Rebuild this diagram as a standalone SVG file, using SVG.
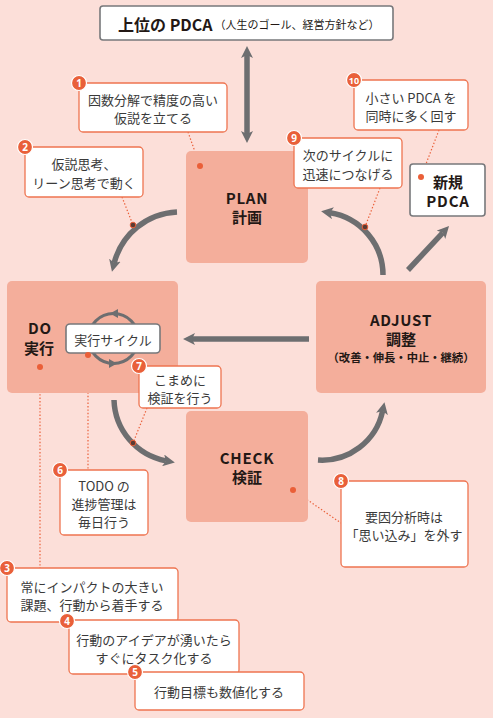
<svg xmlns="http://www.w3.org/2000/svg" width="493" height="718" viewBox="0 0 493 718">
<style>
text{font-family:"Noto Sans CJK JP","Noto Sans",sans-serif}
.bg{fill:#fcdfd9}
.phase{fill:#f4ae9b}
.call{fill:#fff;stroke:#ee7450;stroke-width:1.3}
.gbox{fill:#fff;stroke:#77787b;stroke-width:1.6}
.t{font-size:13px;fill:#3a3a3a;text-anchor:middle;dominant-baseline:central}
.b{font-size:15px;font-weight:bold;fill:#231815;text-anchor:middle;dominant-baseline:central}
.lat{letter-spacing:0.8px}
.badge circle{fill:#e9603a;stroke:#fff;stroke-width:1.2}
.badge text{font-size:10px;font-weight:bold;fill:#fff;text-anchor:middle;dominant-baseline:central;font-family:"Noto Sans",sans-serif}
.arr{fill:none;stroke:#6d6e70;stroke-width:5.5;marker-end:url(#ah)}
.dotl{fill:none;stroke:#ea5f38;stroke-width:1.2;stroke-dasharray:1.4 2}
.dot{fill:#ea5f38}
.adot{fill:#5b3b33;stroke:#ea5f38;stroke-width:1}
</style>
<defs>
<marker id="ah" viewBox="0 0 12 12" markerWidth="12" markerHeight="12" markerUnits="userSpaceOnUse" refX="3" refY="6" orient="auto-start-reverse">
<path d="M0,0 L12,6 L0,12 L3,6 z" fill="#6d6e70"/>
</marker>
</defs>
<rect class="bg" x="0" y="0" width="493" height="718"/>

<g id="connectors">
<path class="arr" d="M247,55 L247,134" marker-start="url(#ah)"/>
<path class="arr" d="M177,212 A68,68 0 0 0 114.2,263"/>
<path class="arr" d="M383,275 A63,63 0 0 0 330,212.8"/>
<path class="arr" d="M114,400 A64,64 0 0 0 166,460.9"/>
<path class="arr" d="M318,460 A62,62 0 0 0 382.6,411"/>
<path class="arr" d="M309,339 L192,339"/>
<path class="arr" d="M408,270 L442.9,232.6"/>
<path class="dotl" d="M188,132 L200,166"/>
<path class="dotl" d="M122,197 L133,225"/>
<path class="dotl" d="M380,188 L365,227"/>
<path class="dotl" d="M439,130 L421,177"/>
<path class="dotl" d="M147,408 L133,443"/>
<path class="dotl" d="M293,490 L341,523"/>
<path class="dotl" d="M40,367 L40,568"/>
<path class="dotl" d="M88,355 L88,470"/>
</g>

<g id="plan">
<rect class="phase" x="186" y="151" width="122" height="112" rx="5"/>
<text class="b"><tspan class="lat" x="247" y="197">PLAN</tspan><tspan x="247" y="216">計画</tspan></text>
<circle class="dot" cx="200" cy="166" r="3"/>
</g>
<g id="do">
<rect class="phase" x="7" y="281" width="171" height="112" rx="5"/>
<text class="b"><tspan class="lat" x="40" y="327">DO</tspan><tspan x="39" y="347">実行</tspan></text>
<circle class="dot" cx="40" cy="367" r="3"/>
</g>
<g id="check">
<rect class="phase" x="186" y="411" width="122" height="111" rx="5"/>
<text class="b"><tspan class="lat" x="247" y="457">CHECK</tspan><tspan x="247" y="476">検証</tspan></text>
<circle class="dot" cx="293" cy="490" r="3"/>
</g>
<g id="adjust">
<rect class="phase" x="316" y="281" width="170" height="112" rx="5"/>
<text class="b"><tspan class="lat" x="401" y="318.5">ADJUST</tspan><tspan x="401" y="337.5">調整</tspan><tspan x="401" y="357" style="font-size:11.3px">（改善・伸長・中止・継続）</tspan></text>
</g>

<g id="arrow-dots">
<circle class="adot" cx="133" cy="225" r="2.8"/>
<circle class="adot" cx="365" cy="227" r="2.8"/>
<circle class="adot" cx="133" cy="443" r="2.8"/>
</g>

<g id="top">
<rect class="gbox" x="100" y="6" width="293" height="34" rx="3"/>
<text x="118" y="24" style="font-size:16px;font-weight:bold;fill:#231815;dominant-baseline:central">上位の PDCA<tspan style="font-size:11px;font-weight:normal" dx="2">（人生のゴール、経営方針など）</tspan></text>
</g>

<g id="new-pdca">
<rect class="gbox" x="410" y="164" width="75" height="52" rx="3"/>
<text class="b"><tspan x="448" y="181">新規</tspan><tspan class="lat" x="448" y="200">PDCA</tspan></text>
<circle class="dot" cx="421" cy="177" r="3"/>
</g>

<g id="exec-cycle">
<circle cx="113.5" cy="338.5" r="25" fill="none" stroke="#6d6e70" stroke-width="3"/>
<path d="M110,313.5 L118,309 L118,318 z" fill="#6d6e70"/>
<path d="M117,363.5 L109,359 L109,368 z" fill="#6d6e70"/>
<rect class="gbox" x="66" y="324" width="94" height="29" rx="4"/>
<text class="t" x="113" y="339">実行サイクル</text>
<circle class="dot" cx="88" cy="355" r="3"/>
</g>

<g id="c1">
<rect class="call" x="79" y="83" width="148" height="49" rx="4"/>
<text class="t"><tspan x="153" y="99">因数分解で精度の高い</tspan><tspan x="153" y="117">仮説を立てる</tspan></text>
<g class="badge"><circle cx="79" cy="83" r="7.5"/><text x="79" y="83">1</text></g>
</g>
<g id="c2">
<rect class="call" x="25" y="147" width="118" height="50" rx="4"/>
<text class="t"><tspan x="84" y="163">仮説思考、</tspan><tspan x="84" y="182">リーン思考で動く</tspan></text>
<g class="badge"><circle cx="25" cy="147" r="7.5"/><text x="25" y="147">2</text></g>
</g>
<g id="c9">
<rect class="call" x="294" y="138" width="108" height="50" rx="4"/>
<text class="t"><tspan x="348" y="154">次のサイクルに</tspan><tspan x="348" y="173">迅速につなげる</tspan></text>
<g class="badge"><circle cx="294" cy="138" r="7.5"/><text x="294" y="138">9</text></g>
</g>
<g id="c10">
<rect class="call" x="354" y="80" width="114" height="50" rx="4"/>
<text class="t"><tspan x="411" y="97">小さい PDCA を</tspan><tspan x="411" y="115">同時に多く回す</tspan></text>
<g class="badge"><circle cx="354" cy="80" r="7.5"/><text x="354" y="80" style="font-size:9px">10</text></g>
</g>
<g id="c7">
<rect class="call" x="139" y="366" width="82" height="42" rx="4"/>
<text class="t"><tspan x="180" y="378.5">こまめに</tspan><tspan x="180" y="396.5">検証を行う</tspan></text>
<g class="badge"><circle cx="139" cy="366" r="7.5"/><text x="139" y="366">7</text></g>
</g>
<g id="c6">
<rect class="call" x="60" y="470" width="88" height="65" rx="4"/>
<text class="t"><tspan x="104" y="485">TODO の</tspan><tspan x="104" y="503">進捗管理は</tspan><tspan x="104" y="521">毎日行う</tspan></text>
<g class="badge"><circle cx="60" cy="470" r="7.5"/><text x="60" y="470">6</text></g>
</g>
<g id="c8">
<rect class="call" x="341" y="481" width="127" height="86" rx="4"/>
<text class="t"><tspan x="404" y="515.5">要因分析時は</tspan><tspan x="404" y="533.5">「思い込み」を外す</tspan></text>
<g class="badge"><circle cx="341" cy="481" r="7.5"/><text x="341" y="481">8</text></g>
</g>
<g id="c3">
<rect class="call" x="7" y="568" width="171" height="54" rx="4"/>
<text class="t"><tspan x="92" y="586">常にインパクトの大きい</tspan><tspan x="92" y="604">課題、行動から着手する</tspan></text>
<g class="badge"><circle cx="7" cy="568" r="7.5"/><text x="7" y="568">3</text></g>
</g>
<g id="c4">
<rect class="call" x="69" y="620" width="170" height="54" rx="4"/>
<text class="t"><tspan x="154" y="638.5">行動のアイデアが湧いたら</tspan><tspan x="154" y="656.5">すぐにタスク化する</tspan></text>
<g class="badge"><circle cx="67" cy="621" r="7.5"/><text x="67" y="621">4</text></g>
</g>
<g id="c5">
<rect class="call" x="135" y="672" width="169" height="38" rx="4"/>
<text class="t" x="219" y="691">行動目標も数値化する</text>
<g class="badge"><circle cx="135" cy="672" r="7.5"/><text x="135" y="672">5</text></g>
</g>
</svg>
